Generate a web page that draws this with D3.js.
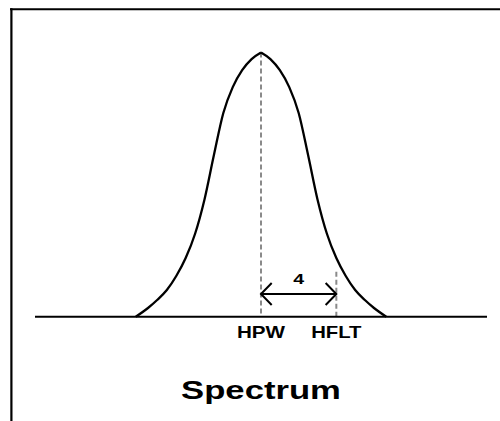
<html>
<script src="https://d3js.org/d3.v7.min.js" charset="utf-8"></script>
<style>
body { margin: 0; background: white; }
text { font-family: Arial, "Liberation Sans", sans-serif; font-weight: bold; fill: #000; text-anchor: middle; }
</style>
<body>
</body>
<script>

// spectrum shape (x in "units", y as % of peak)
var specX = [-6.65, -6, -5.5, -5, -4.5, -4, -3.5, -3, -2.5, -2, -1.5, -1, -0.5, 0,
             0.5, 1, 1.5, 2, 2.5, 3, 3.5, 4, 4.5, 5, 5.5, 6, 6.65];
var specY = [0, 3.3, 6.4, 10.1, 15.4, 22.2, 31.4, 44.4, 61.2, 77.1, 86.9, 93.3, 97.5, 100,
             97.5, 93.3, 86.9, 77.1, 61.2, 44.4, 31.4, 22.2, 15.4, 10.1, 6.4, 3.3, 0];

// markers on the axis
var markLabels = ["HPW", "HFLT"];
var markX = [0, 4];
var markTop = [100, 17];   // where the dashed guide stops
var gapLabel = "4";
var arrowY = 8.6;
var title = "Spectrum";

var W = 500, H = 421;

var svg = d3.select("body").append("svg")
	.attr("width", W)
	.attr("height", H);

var x = d3.scaleLinear().domain([-12, 12]).range([35, 487]);
var y = d3.scaleLinear().domain([0, 100]).range([316.7, 52.5]);

// frame (top + left only)
svg.append("line")
	.attr("x1", 10).attr("x2", W).attr("y1", 9.3).attr("y2", 9.3)
	.style("stroke", "#000").style("stroke-width", 2);
svg.append("line")
	.attr("x1", 11.4).attr("x2", 11.4).attr("y1", 8.3).attr("y2", H)
	.style("stroke", "#000").style("stroke-width", 2.2);

// dashed guides
markX.forEach(function(m, i) {
	svg.append("line")
		.attr("x1", x(m)).attr("x2", x(m))
		.attr("y1", y(markTop[i])).attr("y2", y(0))
		.style("stroke", "#8a8a8a")
		.style("stroke-width", 2)
		.style("stroke-dasharray", "5,3");
});

// baseline
svg.append("line")
	.attr("x1", x(-12)).attr("x2", x(12))
	.attr("y1", y(0)).attr("y2", y(0))
	.style("stroke", "#000").style("stroke-width", 2);

// curve, drawn as two halves so the top stays pointed
var pts = specX.map(function(d, i) { return [d, specY[i]]; });
var mid = specX.indexOf(0);
var line = d3.line()
	.x(function(d) { return x(d[0]); })
	.y(function(d) { return y(d[1]); })
	.curve(d3.curveMonotoneX);

[pts.slice(0, mid + 1), pts.slice(mid)].forEach(function(half) {
	svg.append("path")
		.attr("d", line(half))
		.style("fill", "none")
		.style("stroke", "#000")
		.style("stroke-width", 2.3);
});

// double arrow between HPW and HFLT
var ax0 = x(markX[0]), ax1 = x(markX[1]), ay = y(arrowY);
var head = 10.7;
svg.append("path")
	.attr("d",
		"M" + ax0 + "," + ay + "L" + ax1 + "," + ay +
		"M" + (ax0 + head) + "," + (ay - 11) + "L" + ax0 + "," + ay + "L" + (ax0 + head) + "," + (ay + 11) +
		"M" + (ax1 - head) + "," + (ay - 11) + "L" + ax1 + "," + ay + "L" + (ax1 - head) + "," + (ay + 11))
	.style("fill", "none")
	.style("stroke", "#000")
	.style("stroke-width", 2);

svg.append("text")
	.attr("transform", "translate(" + x((markX[0] + markX[1]) / 2) + ",284.3) scale(1.35,1)")
	.style("font-size", "14.5px")
	.text(gapLabel);

// axis labels
var labelScale = [1.25, 1.23];
markLabels.forEach(function(t, i) {
	svg.append("text")
		.attr("transform", "translate(" + x(markX[i]) + ",337.5) scale(" + labelScale[i] + ",1)")
		.style("font-size", "16.5px")
		.text(t);
});

svg.append("text")
	.attr("transform", "translate(" + x(0) + ",399) scale(1.36,1)")
	.style("font-size", "25.5px")
	.text(title);

</script>
</html>
